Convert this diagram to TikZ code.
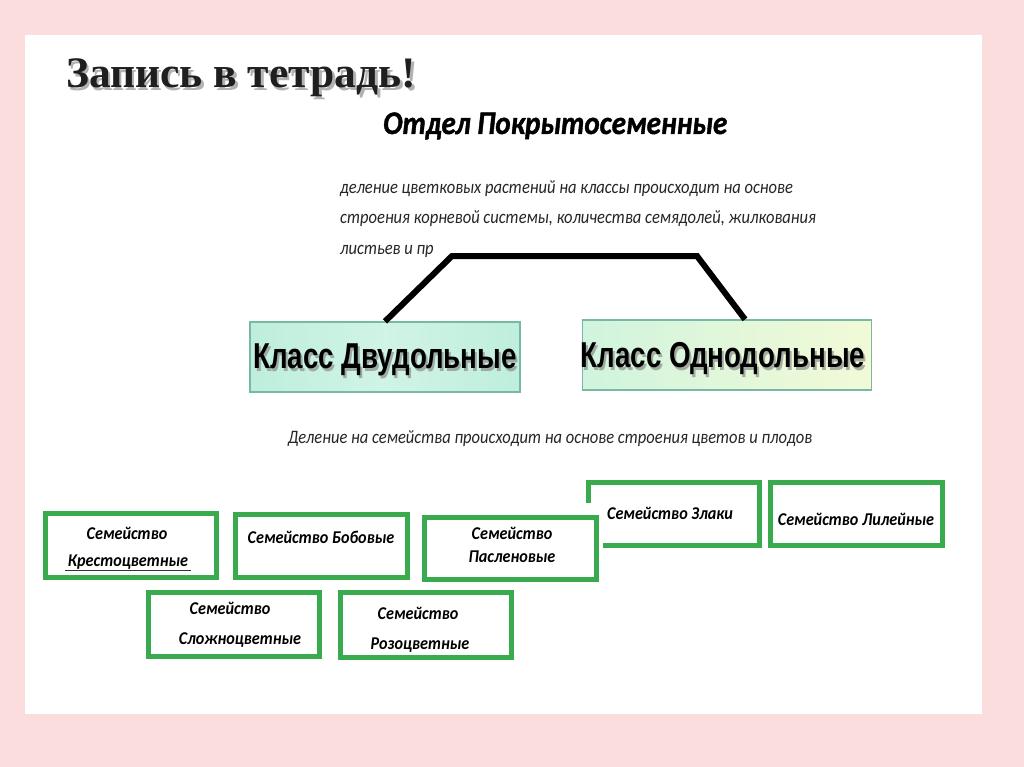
\documentclass[tikz,border=0pt]{standalone}
\usepackage{fontspec}
\setmainfont{Carlito}
\newfontfamily\titlefont{Liberation Serif}
\newfontfamily\classfont[FakeStretch=0.77]{Liberation Sans}
\newfontfamily\notefont[FakeStretch=0.87]{Carlito}
\newfontfamily\famfont[FakeStretch=0.9]{Carlito}
\newfontfamily\divfont[FakeStretch=0.88,FakeBold=1.2]{Carlito}
\usetikzlibrary{calc}
\definecolor{pinkbg}{RGB}{252,221,221}
\definecolor{famgreen}{RGB}{58,170,78}
\definecolor{classborder}{RGB}{120,185,165}
\definecolor{mintA}{RGB}{190,238,220}
\definecolor{mintB}{RGB}{208,244,230}
\definecolor{mintC}{RGB}{208,244,222}
\definecolor{paleY}{RGB}{242,250,214}
\tikzset{
  fambox/.style={draw=famgreen, line width=5pt, fill=white, inner sep=0pt,
    minimum width=171pt, minimum height=64pt},
  famtext/.style={font=\famfont\bfseries\itshape\fontsize{18}{21}\selectfont, inner sep=0pt},
  classbox/.style={draw=classborder, line width=1.2pt, inner sep=0pt, minimum height=70pt},
  classtext/.style={font=\classfont\bfseries\fontsize{36}{40}\selectfont, inner sep=0pt, anchor=base},
  classshadow/.style={classtext, text=black!45, opacity=0.7},
  note/.style={font=\notefont\itshape\fontsize{19}{22}\selectfont, inner sep=0pt, anchor=base west, text=black!85},
  link/.style={line width=6pt, line join=miter},
}
\begin{document}
\begin{tikzpicture}[x=1pt,y=-1pt]
\useasboundingbox (0,0) rectangle (1024,767);
\fill[pinkbg] (0,0) rectangle (1024,767);
\fill[white] (25,35) rectangle (982,714);

% title
\node[anchor=base west, inner sep=0pt, text=black!30, font=\titlefont\bfseries\fontsize{43.5}{48}\selectfont] (titleshadow) at (68.5,91) {Запись в тетрадь!};
\node[anchor=base west, inner sep=0pt, text=black!88, font=\titlefont\bfseries\fontsize{43.5}{48}\selectfont] (title) at (66,88) {Запись в тетрадь!};

% division
\node[anchor=base west, inner sep=0pt, font=\divfont\bfseries\itshape\fontsize{33}{38}\selectfont] (division) at (383,134) {Отдел Покрытосеменные};

\node[note] (note1) at (340,194) {деление цветковых растений на классы происходит на основе};
\node[note] (note2) at (340,224) {строения корневой системы, количества семядолей, жилкования};
\node[note] (note3) at (340,254) {листьев и пр};

% classes
\node[classbox, minimum width=270pt, left color=mintA, right color=mintA, middle color=mintB] (dicot) at (385,357) {};
\node[classshadow] (dicotshadow) at (387,371) {Класс Двудольные};
\node[classtext] (dicottext) at (385,368) {Класс Двудольные};

\node[classbox, minimum width=289pt, left color=mintC, right color=paleY] (mono) at (727,355) {};
\node[classshadow] (monoshadow) at (725,370) {Класс Однодольные};
\node[classtext] (monotext) at (723,367) {Класс Однодольные};

\coordinate (c1) at (452,256);
\coordinate (c2) at (697,256);
\draw[link] (dicot.north) -- (c1) -- (c2) -- ($(mono.north)+(18,0)$);

\node[note, anchor=base, font=\notefont\itshape\fontsize{19}{22}\selectfont] (familynote) at (550,443) {Деление на семейства происходит на основе строения цветов и плодов};

% families
\node[fambox, minimum height=63pt] (zlaki) at (673.5,514) {};
\fill[white] (583,503) rectangle (603,552);
\node[fambox] (kresto) at (131,545) {};
\node[fambox, minimum width=172pt, minimum height=63pt] (bobov) at (321.5,546) {};
\node[fambox, minimum width=172pt, minimum height=62pt] (pasl) at (510.5,548.5) {};
\node[fambox, minimum width=172pt, minimum height=63pt] (lil) at (856.5,514) {};
\node[fambox] (slozh) at (234,624.5) {};
\node[fambox, minimum height=65pt] (rozo) at (426,625) {};

\node[famtext] (kresto1) at (127,533) {Семейство};
\node[famtext] (kresto2) at (128,562) {Крестоцветные};
\draw[line width=0.8pt, black!80] ([xshift=-3pt,yshift=-1pt]kresto2.south west) -- ([xshift=3pt,yshift=-1pt]kresto2.south east);
\node[famtext] (bobov1) at (321,537) {Семейство Бобовые};
\node[famtext] (pasl1) at (512,533) {Семейство};
\node[famtext] (pasl2) at (512,557) {Пасленовые};
\node[famtext] (zlaki1) at (670,513) {Семейство Злаки};
\node[famtext] (lil1) at (856,519) {Семейство Лилейные};
\node[famtext] (slozh1) at (230,608) {Семейство};
\node[famtext] (slozh2) at (240,640) {Сложноцветные};
\node[famtext] (rozo1) at (418,613) {Семейство};
\node[famtext] (rozo2) at (420,645) {Розоцветные};
\end{tikzpicture}
\end{document}
